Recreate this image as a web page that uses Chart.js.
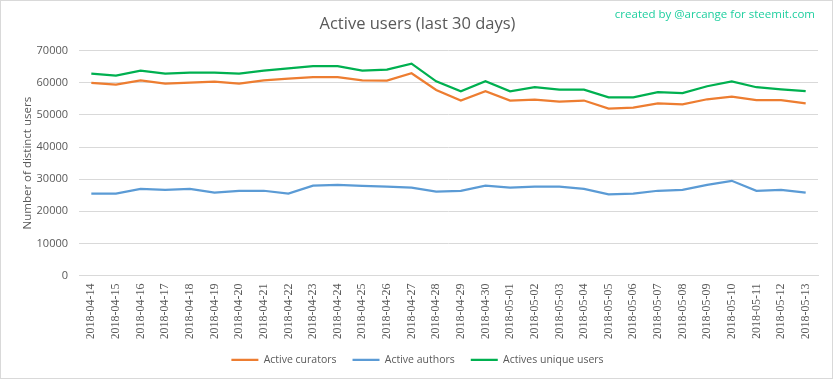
<!DOCTYPE html>
<html>
<head>
<meta charset="utf-8">
<script src="https://cdn.jsdelivr.net/npm/chart.js@4.4.1/dist/chart.umd.min.js"></script>
<style>
  html, body { margin: 0; padding: 0; background: #fff; }
  #wrap { width: 833px; height: 379px; position: relative; }
</style>
</head>
<body>
<div id="wrap"><canvas id="activeUsersChart" width="833" height="379"></canvas></div>
<script>
// Data
const days = [
  '2018-04-14', '2018-04-15', '2018-04-16', '2018-04-17', '2018-04-18', '2018-04-19',
  '2018-04-20', '2018-04-21', '2018-04-22', '2018-04-23', '2018-04-24', '2018-04-25',
  '2018-04-26', '2018-04-27', '2018-04-28', '2018-04-29', '2018-04-30', '2018-05-01',
  '2018-05-02', '2018-05-03', '2018-05-04', '2018-05-05', '2018-05-06', '2018-05-07',
  '2018-05-08', '2018-05-09', '2018-05-10', '2018-05-11', '2018-05-12', '2018-05-13'
];
const curators = [
  60000, 59500, 60800, 59800, 60100, 60400, 59800, 60800, 61350, 61800, 61800, 60800,
  60700, 63000, 57800, 54500, 57400, 54500, 54800, 54200, 54500, 52000, 52300, 53650,
  53300, 54900, 55700, 54600, 54600, 53650
];
const authors = [
  25500, 25500, 27000, 26700, 27000, 25800, 26400, 26400, 25500, 28000, 28250, 27950,
  27650, 27400, 26100, 26400, 28000, 27400, 27700, 27700, 27000, 25250, 25500, 26400,
  26700, 28250, 29500, 26400, 26700, 25800
];
const uniqueUsers = [
  62900, 62300, 63850, 62900, 63200, 63200, 62900, 63850, 64500, 65200, 65200, 63850,
  64150, 66000, 60500, 57400, 60500, 57400, 58650, 57900, 57900, 55500, 55500, 57100,
  56800, 58950, 60500, 58650, 58000, 57400
];

const grey = '#595959';
const uiFont = "'Open Sans', 'Noto Sans', sans-serif";

// border round the picture + watermark text
const frame = {
  id: 'frame',
  afterDraw(chart) {
    const ctx = chart.ctx;
    ctx.save();
    ctx.strokeStyle = '#d9d9d9';
    ctx.lineWidth = 1;
    ctx.strokeRect(0.5, 0.5, chart.width - 1, chart.height - 1);
    ctx.fillStyle = '#1fcf9f';
    ctx.font = "11.5px " + uiFont;
    ctx.textAlign = 'right';
    ctx.textBaseline = 'middle';
    ctx.fillText('created by @arcange for steemit.com', 815, 15);
    ctx.restore();
  }
};

const ctx = document.getElementById('activeUsersChart').getContext('2d');
new Chart(ctx, {
  type: 'line',
  data: {
    labels: days,
    datasets: [
      { label: 'Active curators', data: curators, borderColor: '#ED7D31', backgroundColor: '#ED7D31', borderWidth: 2.25 },
      { label: 'Active authors', data: authors, borderColor: '#5B9BD5', backgroundColor: '#5B9BD5', borderWidth: 2.25 },
      { label: 'Actives unique users', data: uniqueUsers, borderColor: '#00B050', backgroundColor: '#00B050', borderWidth: 2.25 }
    ]
  },
  options: {
    responsive: false,
    animation: false,
    layout: { padding: { left: 17, right: 15, top: 10, bottom: 4 } },
    elements: {
      line: { tension: 0 },
      point: { radius: 0 }
    },
    plugins: {
      title: {
        display: true,
        text: 'Active users (last 30 days)',
        color: grey,
        font: { family: uiFont, size: 16.5, weight: 'normal' },
        padding: { top: 4, bottom: 17 }
      },
      legend: {
        position: 'bottom',
        labels: {
          color: grey,
          font: { family: uiFont, size: 10.5 },
          usePointStyle: true,
          pointStyle: 'line',
          pointStyleWidth: 27,
          boxWidth: 27,
          padding: 16
        }
      },
      tooltip: { enabled: false }
    },
    scales: {
      x: {
        offset: true,
        grid: { display: false, drawTicks: false },
        border: { color: '#d9d9d9' },
        ticks: {
          color: grey,
          font: { family: "'Liberation Serif', serif", size: 12 },
          minRotation: 90,
          maxRotation: 90,
          autoSkip: false,
          padding: 8
        },
        afterFit(scale) { scale.height = 63; }
      },
      y: {
        min: 0,
        max: 70000,
        grid: { color: '#d9d9d9', drawTicks: false },
        border: { display: false },
        ticks: {
          stepSize: 10000,
          color: grey,
          font: { family: uiFont, size: 11 },
          padding: 11,
          callback: (v) => String(v)
        },
        title: {
          display: true,
          text: 'Number of distinct users',
          color: grey,
          font: { family: uiFont, size: 11.5 }
        },
        afterFit(scale) { scale.width = 62; }
      }
    }
  },
  plugins: [frame]
});
</script>
</body>
</html>
